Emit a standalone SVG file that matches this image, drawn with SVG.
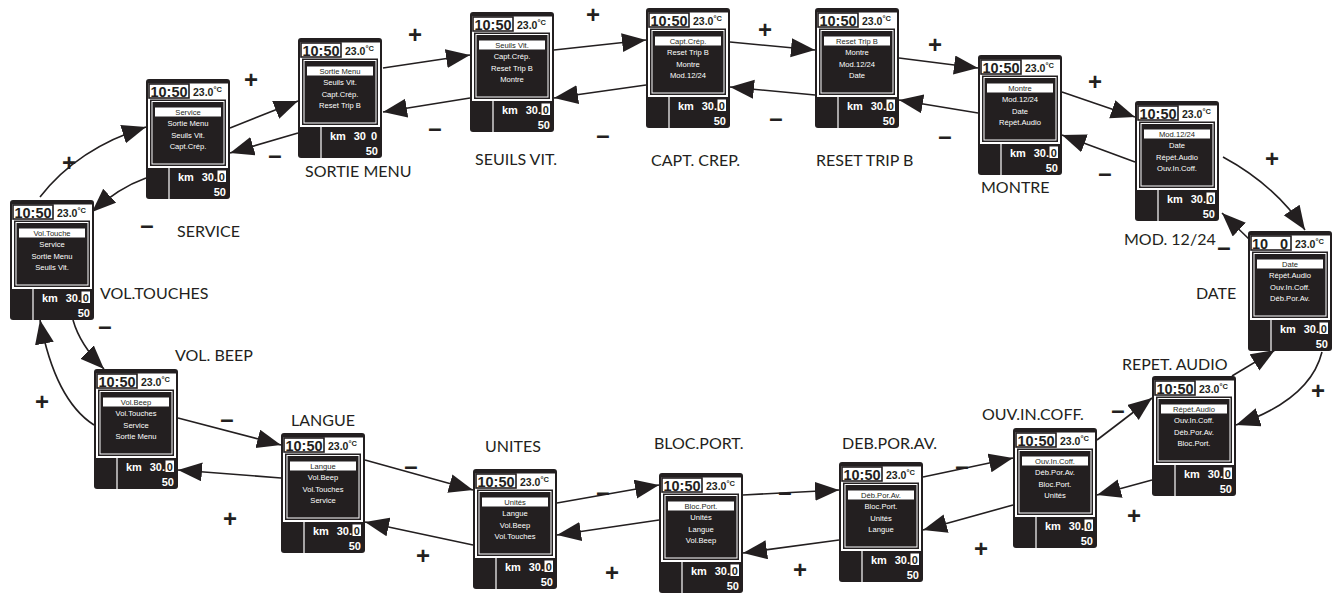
<svg xmlns="http://www.w3.org/2000/svg" width="1335" height="596" viewBox="0 0 1335 596">
<defs>
<style>
.bg{fill:#231f20}
.pn{fill:#fff}
.tb{fill:#fff;stroke:#231f20;stroke-width:1.6}
.mn{fill:#231f20}
.mi{fill:none;stroke:#fff;stroke-width:1}
.sel{fill:#fff}
.vl{stroke:#fff;stroke-width:1.2}
.tm{font-family:"Liberation Sans",Arial,sans-serif;font-weight:bold;font-size:14.5px;fill:#231f20;text-anchor:middle}
.tp{font-family:"Liberation Sans",Arial,sans-serif;font-weight:bold;font-size:10.5px;fill:#231f20}
.it{font-family:"Liberation Sans",Arial,sans-serif;font-size:7.6px;fill:#fff;text-anchor:middle}
.is{font-family:"Liberation Sans",Arial,sans-serif;font-size:7.6px;fill:#231f20;text-anchor:middle}
.km{font-family:"Liberation Sans",Arial,sans-serif;font-weight:bold;font-size:11px;fill:#fff}
.ke{font-family:"Liberation Sans",Arial,sans-serif;font-weight:bold;font-size:11px;fill:#fff;text-anchor:end}
.zb{fill:#fff}
.zt{font-family:"Liberation Sans",Arial,sans-serif;font-weight:bold;font-size:11px;fill:#231f20;text-anchor:middle}
.lb{font-family:Lato,"Liberation Sans",sans-serif;font-size:16px;fill:#231f20}
.pm{font-family:"Liberation Sans",Arial,sans-serif;font-weight:bold;font-size:24px;fill:#231f20;text-anchor:middle}
.cn{fill:none;stroke:#231f20;stroke-width:1.6}
</style>
<marker id="ah" markerUnits="userSpaceOnUse" markerWidth="26" markerHeight="20" refX="24" refY="9.5" orient="auto">
<path d="M0,0 L24,9.5 L0,19 Z" fill="#231f20"/>
</marker>
</defs>

<g id="connectors">
<path class="cn" marker-end="url(#ah)" d="M40,197 Q78,148 146,127"/>
<path class="cn" marker-end="url(#ah)" d="M146,178 Q118,188 92,212"/>
<path class="cn" marker-end="url(#ah)" d="M230,128 L298,101"/>
<path class="cn" marker-end="url(#ah)" d="M298,133 L230,153"/>
<path class="cn" marker-end="url(#ah)" d="M383,68 L470,55"/>
<path class="cn" marker-end="url(#ah)" d="M470,98 L383,112"/>
<path class="cn" marker-end="url(#ah)" d="M554,50 L646,40"/>
<path class="cn" marker-end="url(#ah)" d="M646,85 L554,98"/>
<path class="cn" marker-end="url(#ah)" d="M730,42 L815,50"/>
<path class="cn" marker-end="url(#ah)" d="M815,95 L730,87"/>
<path class="cn" marker-end="url(#ah)" d="M899,58 L978,68"/>
<path class="cn" marker-end="url(#ah)" d="M978,113 L899,100"/>
<path class="cn" marker-end="url(#ah)" d="M1062,92 L1135,117"/>
<path class="cn" marker-end="url(#ah)" d="M1135,162 L1062,135"/>
<path class="cn" marker-end="url(#ah)" d="M1223,157 Q1275,185 1305,230"/>
<path class="cn" marker-end="url(#ah)" d="M1250,240 L1222,213"/>
<path class="cn" marker-end="url(#ah)" d="M1322,352 Q1310,400 1236,425"/>
<path class="cn" marker-end="url(#ah)" d="M1232,376 L1275,350"/>
<path class="cn" marker-end="url(#ah)" d="M1097,440 L1152,398"/>
<path class="cn" marker-end="url(#ah)" d="M1152,480 L1097,495"/>
<path class="cn" marker-end="url(#ah)" d="M923,477 L1013,458"/>
<path class="cn" marker-end="url(#ah)" d="M1013,505 L923,530"/>
<path class="cn" marker-end="url(#ah)" d="M743,495 L839,490"/>
<path class="cn" marker-end="url(#ah)" d="M839,540 L743,553"/>
<path class="cn" marker-end="url(#ah)" d="M557,503 L659,485"/>
<path class="cn" marker-end="url(#ah)" d="M659,520 L557,535"/>
<path class="cn" marker-end="url(#ah)" d="M365,460 L473,490"/>
<path class="cn" marker-end="url(#ah)" d="M473,545 L365,522"/>
<path class="cn" marker-end="url(#ah)" d="M178,418 L281,445"/>
<path class="cn" marker-end="url(#ah)" d="M281,478 L178,470"/>
<path class="cn" marker-end="url(#ah)" d="M73,320 Q80,345 104,369"/>
<path class="cn" marker-end="url(#ah)" d="M94,425 Q55,400 40,320"/>
</g>

<g id="signs">
<text class="pm" x="69" y="171">+</text>
<text class="pm" x="147" y="233">–</text>
<text class="pm" x="251" y="88">+</text>
<text class="pm" x="275" y="163">–</text>
<text class="pm" x="415" y="43">+</text>
<text class="pm" x="435" y="136">–</text>
<text class="pm" x="593" y="23">+</text>
<text class="pm" x="603" y="143">–</text>
<text class="pm" x="765" y="38">+</text>
<text class="pm" x="776" y="126">–</text>
<text class="pm" x="935" y="53">+</text>
<text class="pm" x="945" y="144">–</text>
<text class="pm" x="1095" y="90">+</text>
<text class="pm" x="1105" y="181">–</text>
<text class="pm" x="1272" y="167">+</text>
<text class="pm" x="1224" y="255">–</text>
<text class="pm" x="1255" y="349">–</text>
<text class="pm" x="1318" y="399">+</text>
<text class="pm" x="1118" y="418">–</text>
<text class="pm" x="1134" y="524">+</text>
<text class="pm" x="962" y="474">–</text>
<text class="pm" x="981" y="557">+</text>
<text class="pm" x="785" y="500">–</text>
<text class="pm" x="800" y="578">+</text>
<text class="pm" x="603" y="500">–</text>
<text class="pm" x="612" y="581">+</text>
<text class="pm" x="411" y="474">–</text>
<text class="pm" x="423" y="564">+</text>
<text class="pm" x="227" y="427">–</text>
<text class="pm" x="230" y="527">+</text>
<text class="pm" x="105" y="334">–</text>
<text class="pm" x="42" y="410">+</text>
</g>

<g id="labels">
<text class="lb" x="100" y="299">VOL.TOUCHES</text>
<text class="lb" x="177" y="237">SERVICE</text>
<text class="lb" x="305" y="177">SORTIE MENU</text>
<text class="lb" x="475" y="165">SEUILS VIT.</text>
<text class="lb" x="651" y="166">CAPT. CREP.</text>
<text class="lb" x="816" y="166">RESET TRIP B</text>
<text class="lb" x="981" y="193">MONTRE</text>
<text class="lb" x="1124" y="245">MOD. 12/24</text>
<text class="lb" x="1196" y="299">DATE</text>
<text class="lb" x="1122" y="370">REPET. AUDIO</text>
<text class="lb" x="982" y="420">OUV.IN.COFF.</text>
<text class="lb" x="842" y="449">DEB.POR.AV.</text>
<text class="lb" x="654" y="449">BLOC.PORT.</text>
<text class="lb" x="485" y="452">UNITES</text>
<text class="lb" x="291" y="426">LANGUE</text>
<text class="lb" x="175" y="361">VOL. BEEP</text>
</g>

<g id="n-voltouches" transform="translate(10,200)">
<rect class="bg" width="84" height="120" rx="3"/><rect class="pn" x="2" y="4.5" width="80" height="84.5"/><rect class="tb" x="3" y="5" width="40" height="14"/><text class="tm" x="23" y="17.5">10:50</text><text class="tp" x="47" y="16.5">23.0<tspan font-size="7.5" dy="-3.5">°C</tspan></text><rect class="mn" x="4" y="20.5" width="76" height="66.5"/><rect class="mi" x="6" y="22.5" width="72" height="62.5"/><line class="vl" x1="23" y1="89" x2="23" y2="120"/><rect class="sel" x="9" y="28.5" width="66" height="9"/>
<text class="is" x="42" y="35.8">Vol.Touche</text><text class="it" x="42" y="47">Service</text><text class="it" x="42" y="58.5">Sortie Menu</text><text class="it" x="42" y="69.5">Seuils Vit.</text>
<text class="km" x="32" y="102">km</text><text class="ke" x="71" y="102">30.</text><rect class="zb" x="71.5" y="91.5" width="8.5" height="11.5"/><text class="zt" x="75.8" y="102">0</text><text class="ke" x="80" y="117">50</text>
</g>

<g id="n-service" transform="translate(146,79)">
<rect class="bg" width="84" height="120" rx="3"/><rect class="pn" x="2" y="4.5" width="80" height="84.5"/><rect class="tb" x="3" y="5" width="40" height="14"/><text class="tm" x="23" y="17.5">10:50</text><text class="tp" x="47" y="16.5">23.0<tspan font-size="7.5" dy="-3.5">°C</tspan></text><rect class="mn" x="4" y="20.5" width="76" height="66.5"/><rect class="mi" x="6" y="22.5" width="72" height="62.5"/><line class="vl" x1="23" y1="89" x2="23" y2="120"/><rect class="sel" x="9" y="28.5" width="66" height="9"/>
<text class="is" x="42" y="35.8">Service</text><text class="it" x="42" y="47">Sortie Menu</text><text class="it" x="42" y="58.5">Seuils Vit.</text><text class="it" x="42" y="69.5">Capt.Crép.</text>
<text class="km" x="32" y="102">km</text><text class="ke" x="71" y="102">30.</text><rect class="zb" x="71.5" y="91.5" width="8.5" height="11.5"/><text class="zt" x="75.8" y="102">0</text><text class="ke" x="80" y="117">50</text>
</g>

<g id="n-sortiemenu" transform="translate(298,38)">
<rect class="bg" width="84" height="120" rx="3"/><rect class="pn" x="2" y="4.5" width="80" height="84.5"/><rect class="tb" x="3" y="5" width="40" height="14"/><text class="tm" x="23" y="17.5">10:50</text><text class="tp" x="47" y="16.5">23.0<tspan font-size="7.5" dy="-3.5">°C</tspan></text><rect class="mn" x="4" y="20.5" width="76" height="66.5"/><rect class="mi" x="6" y="22.5" width="72" height="62.5"/><line class="vl" x1="23" y1="89" x2="23" y2="120"/><rect class="sel" x="9" y="28.5" width="66" height="9"/>
<text class="is" x="42" y="35.8">Sortie Menu</text><text class="it" x="42" y="47">Seuils Vit.</text><text class="it" x="42" y="58.5">Capt.Crép.</text><text class="it" x="42" y="69.5">Reset Trip B</text>
<text class="km" x="32" y="102">km</text><text class="ke" x="68" y="102">30</text><text class="ke" x="79" y="102">0</text><text class="ke" x="80" y="117">50</text>
</g>

<g id="n-seuilsvit" transform="translate(470,12)">
<rect class="bg" width="84" height="120" rx="3"/><rect class="pn" x="2" y="4.5" width="80" height="84.5"/><rect class="tb" x="3" y="5" width="40" height="14"/><text class="tm" x="23" y="17.5">10:50</text><text class="tp" x="47" y="16.5">23.0<tspan font-size="7.5" dy="-3.5">°C</tspan></text><rect class="mn" x="4" y="20.5" width="76" height="66.5"/><rect class="mi" x="6" y="22.5" width="72" height="62.5"/><line class="vl" x1="23" y1="89" x2="23" y2="120"/><rect class="sel" x="9" y="28.5" width="66" height="9"/>
<text class="is" x="42" y="35.8">Seuils Vit.</text><text class="it" x="42" y="47">Capt.Crép.</text><text class="it" x="42" y="58.5">Reset Trip B</text><text class="it" x="42" y="69.5">Montre</text>
<text class="km" x="32" y="102">km</text><text class="ke" x="71" y="102">30.</text><rect class="zb" x="71.5" y="91.5" width="8.5" height="11.5"/><text class="zt" x="75.8" y="102">0</text><text class="ke" x="80" y="117">50</text>
</g>

<g id="n-captcrep" transform="translate(646,8)">
<rect class="bg" width="84" height="120" rx="3"/><rect class="pn" x="2" y="4.5" width="80" height="84.5"/><rect class="tb" x="3" y="5" width="40" height="14"/><text class="tm" x="23" y="17.5">10:50</text><text class="tp" x="47" y="16.5">23.0<tspan font-size="7.5" dy="-3.5">°C</tspan></text><rect class="mn" x="4" y="20.5" width="76" height="66.5"/><rect class="mi" x="6" y="22.5" width="72" height="62.5"/><line class="vl" x1="23" y1="89" x2="23" y2="120"/><rect class="sel" x="9" y="28.5" width="66" height="9"/>
<text class="is" x="42" y="35.8">Capt.Crép.</text><text class="it" x="42" y="47">Reset Trip B</text><text class="it" x="42" y="58.5">Montre</text><text class="it" x="42" y="69.5">Mod.12/24</text>
<text class="km" x="32" y="102">km</text><text class="ke" x="71" y="102">30.</text><rect class="zb" x="71.5" y="91.5" width="8.5" height="11.5"/><text class="zt" x="75.8" y="102">0</text><text class="ke" x="80" y="117">50</text>
</g>

<g id="n-resettripb" transform="translate(815,8)">
<rect class="bg" width="84" height="120" rx="3"/><rect class="pn" x="2" y="4.5" width="80" height="84.5"/><rect class="tb" x="3" y="5" width="40" height="14"/><text class="tm" x="23" y="17.5">10:50</text><text class="tp" x="47" y="16.5">23.0<tspan font-size="7.5" dy="-3.5">°C</tspan></text><rect class="mn" x="4" y="20.5" width="76" height="66.5"/><rect class="mi" x="6" y="22.5" width="72" height="62.5"/><line class="vl" x1="23" y1="89" x2="23" y2="120"/><rect class="sel" x="9" y="28.5" width="66" height="9"/>
<text class="is" x="42" y="35.8">Reset Trip B</text><text class="it" x="42" y="47">Montre</text><text class="it" x="42" y="58.5">Mod.12/24</text><text class="it" x="42" y="69.5">Date</text>
<text class="km" x="32" y="102">km</text><text class="ke" x="71" y="102">30.</text><rect class="zb" x="71.5" y="91.5" width="8.5" height="11.5"/><text class="zt" x="75.8" y="102">0</text><text class="ke" x="80" y="117">50</text>
</g>

<g id="n-montre" transform="translate(978,55)">
<rect class="bg" width="84" height="120" rx="3"/><rect class="pn" x="2" y="4.5" width="80" height="84.5"/><rect class="tb" x="3" y="5" width="40" height="14"/><text class="tm" x="23" y="17.5">10:50</text><text class="tp" x="47" y="16.5">23.0<tspan font-size="7.5" dy="-3.5">°C</tspan></text><rect class="mn" x="4" y="20.5" width="76" height="66.5"/><rect class="mi" x="6" y="22.5" width="72" height="62.5"/><line class="vl" x1="23" y1="89" x2="23" y2="120"/><rect class="sel" x="9" y="28.5" width="66" height="9"/>
<text class="is" x="42" y="35.8">Montre</text><text class="it" x="42" y="47">Mod.12/24</text><text class="it" x="42" y="58.5">Date</text><text class="it" x="42" y="69.5">Répét.Audio</text>
<text class="km" x="32" y="102">km</text><text class="ke" x="71" y="102">30.</text><rect class="zb" x="71.5" y="91.5" width="8.5" height="11.5"/><text class="zt" x="75.8" y="102">0</text><text class="ke" x="80" y="117">50</text>
</g>

<g id="n-mod1224" transform="translate(1135,101)">
<rect class="bg" width="84" height="120" rx="3"/><rect class="pn" x="2" y="4.5" width="80" height="84.5"/><rect class="tb" x="3" y="5" width="40" height="14"/><text class="tm" x="23" y="17.5">10:50</text><text class="tp" x="47" y="16.5">23.0<tspan font-size="7.5" dy="-3.5">°C</tspan></text><rect class="mn" x="4" y="20.5" width="76" height="66.5"/><rect class="mi" x="6" y="22.5" width="72" height="62.5"/><line class="vl" x1="23" y1="89" x2="23" y2="120"/><rect class="sel" x="9" y="28.5" width="66" height="9"/>
<text class="is" x="42" y="35.8">Mod.12/24</text><text class="it" x="42" y="47">Date</text><text class="it" x="42" y="58.5">Répét.Audio</text><text class="it" x="42" y="69.5">Ouv.In.Coff.</text>
<text class="km" x="32" y="102">km</text><text class="ke" x="71" y="102">30.</text><rect class="zb" x="71.5" y="91.5" width="8.5" height="11.5"/><text class="zt" x="75.8" y="102">0</text><text class="ke" x="80" y="117">50</text>
</g>

<g id="n-date" transform="translate(1248,231)">
<rect class="bg" width="84" height="120" rx="3"/><rect class="pn" x="2" y="4.5" width="80" height="84.5"/><rect class="tb" x="3" y="5" width="40" height="14"/><text class="tm" x="12" y="17.5">10</text><text class="tm" x="36" y="17.5">0</text><text class="tp" x="47" y="16.5">23.0<tspan font-size="7.5" dy="-3.5">°C</tspan></text><rect class="mn" x="4" y="20.5" width="76" height="66.5"/><rect class="mi" x="6" y="22.5" width="72" height="62.5"/><line class="vl" x1="23" y1="89" x2="23" y2="120"/><rect class="sel" x="9" y="28.5" width="66" height="9"/>
<text class="is" x="42" y="35.8">Date</text><text class="it" x="42" y="47">Répét.Audio</text><text class="it" x="42" y="58.5">Ouv.In.Coff.</text><text class="it" x="42" y="69.5">Déb.Por.Av.</text>
<text class="km" x="32" y="102">km</text><text class="ke" x="71" y="102">30.</text><rect class="zb" x="71.5" y="91.5" width="8.5" height="11.5"/><text class="zt" x="75.8" y="102">0</text><text class="ke" x="80" y="117">50</text>
</g>

<g id="n-repetaudio" transform="translate(1152,376)">
<rect class="bg" width="84" height="120" rx="3"/><rect class="pn" x="2" y="4.5" width="80" height="84.5"/><rect class="tb" x="3" y="5" width="40" height="14"/><text class="tm" x="23" y="17.5">10:50</text><text class="tp" x="47" y="16.5">23.0<tspan font-size="7.5" dy="-3.5">°C</tspan></text><rect class="mn" x="4" y="20.5" width="76" height="66.5"/><rect class="mi" x="6" y="22.5" width="72" height="62.5"/><line class="vl" x1="23" y1="89" x2="23" y2="120"/><rect class="sel" x="9" y="28.5" width="66" height="9"/>
<text class="is" x="42" y="35.8">Répét.Audio</text><text class="it" x="42" y="47">Ouv.In.Coff.</text><text class="it" x="42" y="58.5">Déb.Por.Av.</text><text class="it" x="42" y="69.5">Bloc.Port.</text>
<text class="km" x="32" y="102">km</text><text class="ke" x="71" y="102">30.</text><rect class="zb" x="71.5" y="91.5" width="8.5" height="11.5"/><text class="zt" x="75.8" y="102">0</text><text class="ke" x="80" y="117">50</text>
</g>

<g id="n-ouvincoff" transform="translate(1013,428)">
<rect class="bg" width="84" height="120" rx="3"/><rect class="pn" x="2" y="4.5" width="80" height="84.5"/><rect class="tb" x="3" y="5" width="40" height="14"/><text class="tm" x="23" y="17.5">10:50</text><text class="tp" x="47" y="16.5">23.0<tspan font-size="7.5" dy="-3.5">°C</tspan></text><rect class="mn" x="4" y="20.5" width="76" height="66.5"/><rect class="mi" x="6" y="22.5" width="72" height="62.5"/><line class="vl" x1="23" y1="89" x2="23" y2="120"/><rect class="sel" x="9" y="28.5" width="66" height="9"/>
<text class="is" x="42" y="35.8">Ouv.In.Coff.</text><text class="it" x="42" y="47">Déb.Por.Av.</text><text class="it" x="42" y="58.5">Bloc.Port.</text><text class="it" x="42" y="69.5">Unités</text>
<text class="km" x="32" y="102">km</text><text class="ke" x="71" y="102">30.</text><rect class="zb" x="71.5" y="91.5" width="8.5" height="11.5"/><text class="zt" x="75.8" y="102">0</text><text class="ke" x="80" y="117">50</text>
</g>

<g id="n-debporav" transform="translate(839,462)">
<rect class="bg" width="84" height="120" rx="3"/><rect class="pn" x="2" y="4.5" width="80" height="84.5"/><rect class="tb" x="3" y="5" width="40" height="14"/><text class="tm" x="23" y="17.5">10:50</text><text class="tp" x="47" y="16.5">23.0<tspan font-size="7.5" dy="-3.5">°C</tspan></text><rect class="mn" x="4" y="20.5" width="76" height="66.5"/><rect class="mi" x="6" y="22.5" width="72" height="62.5"/><line class="vl" x1="23" y1="89" x2="23" y2="120"/><rect class="sel" x="9" y="28.5" width="66" height="9"/>
<text class="is" x="42" y="35.8">Déb.Por.Av.</text><text class="it" x="42" y="47">Bloc.Port.</text><text class="it" x="42" y="58.5">Unités</text><text class="it" x="42" y="69.5">Langue</text>
<text class="km" x="32" y="102">km</text><text class="ke" x="71" y="102">30.</text><rect class="zb" x="71.5" y="91.5" width="8.5" height="11.5"/><text class="zt" x="75.8" y="102">0</text><text class="ke" x="80" y="117">50</text>
</g>

<g id="n-blocport" transform="translate(659,473)">
<rect class="bg" width="84" height="120" rx="3"/><rect class="pn" x="2" y="4.5" width="80" height="84.5"/><rect class="tb" x="3" y="5" width="40" height="14"/><text class="tm" x="23" y="17.5">10:50</text><text class="tp" x="47" y="16.5">23.0<tspan font-size="7.5" dy="-3.5">°C</tspan></text><rect class="mn" x="4" y="20.5" width="76" height="66.5"/><rect class="mi" x="6" y="22.5" width="72" height="62.5"/><line class="vl" x1="23" y1="89" x2="23" y2="120"/><rect class="sel" x="9" y="28.5" width="66" height="9"/>
<text class="is" x="42" y="35.8">Bloc.Port.</text><text class="it" x="42" y="47">Unités</text><text class="it" x="42" y="58.5">Langue</text><text class="it" x="42" y="69.5">Vol.Beep</text>
<text class="km" x="32" y="102">km</text><text class="ke" x="71" y="102">30.</text><rect class="zb" x="71.5" y="91.5" width="8.5" height="11.5"/><text class="zt" x="75.8" y="102">0</text><text class="ke" x="80" y="117">50</text>
</g>

<g id="n-unites" transform="translate(473,469)">
<rect class="bg" width="84" height="120" rx="3"/><rect class="pn" x="2" y="4.5" width="80" height="84.5"/><rect class="tb" x="3" y="5" width="40" height="14"/><text class="tm" x="23" y="17.5">10:50</text><text class="tp" x="47" y="16.5">23.0<tspan font-size="7.5" dy="-3.5">°C</tspan></text><rect class="mn" x="4" y="20.5" width="76" height="66.5"/><rect class="mi" x="6" y="22.5" width="72" height="62.5"/><line class="vl" x1="23" y1="89" x2="23" y2="120"/><rect class="sel" x="9" y="28.5" width="66" height="9"/>
<text class="is" x="42" y="35.8">Unités</text><text class="it" x="42" y="47">Langue</text><text class="it" x="42" y="58.5">Vol.Beep</text><text class="it" x="42" y="69.5">Vol.Touches</text>
<text class="km" x="32" y="102">km</text><text class="ke" x="71" y="102">30.</text><rect class="zb" x="71.5" y="91.5" width="8.5" height="11.5"/><text class="zt" x="75.8" y="102">0</text><text class="ke" x="80" y="117">50</text>
</g>

<g id="n-langue" transform="translate(281,433)">
<rect class="bg" width="84" height="120" rx="3"/><rect class="pn" x="2" y="4.5" width="80" height="84.5"/><rect class="tb" x="3" y="5" width="40" height="14"/><text class="tm" x="23" y="17.5">10:50</text><text class="tp" x="47" y="16.5">23.0<tspan font-size="7.5" dy="-3.5">°C</tspan></text><rect class="mn" x="4" y="20.5" width="76" height="66.5"/><rect class="mi" x="6" y="22.5" width="72" height="62.5"/><line class="vl" x1="23" y1="89" x2="23" y2="120"/><rect class="sel" x="9" y="28.5" width="66" height="9"/>
<text class="is" x="42" y="35.8">Langue</text><text class="it" x="42" y="47">Vol.Beep</text><text class="it" x="42" y="58.5">Vol.Touches</text><text class="it" x="42" y="69.5">Service</text>
<text class="km" x="32" y="102">km</text><text class="ke" x="71" y="102">30.</text><rect class="zb" x="71.5" y="91.5" width="8.5" height="11.5"/><text class="zt" x="75.8" y="102">0</text><text class="ke" x="80" y="117">50</text>
</g>

<g id="n-volbeep" transform="translate(94,369)">
<rect class="bg" width="84" height="120" rx="3"/><rect class="pn" x="2" y="4.5" width="80" height="84.5"/><rect class="tb" x="3" y="5" width="40" height="14"/><text class="tm" x="23" y="17.5">10:50</text><text class="tp" x="47" y="16.5">23.0<tspan font-size="7.5" dy="-3.5">°C</tspan></text><rect class="mn" x="4" y="20.5" width="76" height="66.5"/><rect class="mi" x="6" y="22.5" width="72" height="62.5"/><line class="vl" x1="23" y1="89" x2="23" y2="120"/><rect class="sel" x="9" y="28.5" width="66" height="9"/>
<text class="is" x="42" y="35.8">Vol.Beep</text><text class="it" x="42" y="47">Vol.Touches</text><text class="it" x="42" y="58.5">Service</text><text class="it" x="42" y="69.5">Sortie Menu</text>
<text class="km" x="32" y="102">km</text><text class="ke" x="71" y="102">30.</text><rect class="zb" x="71.5" y="91.5" width="8.5" height="11.5"/><text class="zt" x="75.8" y="102">0</text><text class="ke" x="80" y="117">50</text>
</g>
</svg>
